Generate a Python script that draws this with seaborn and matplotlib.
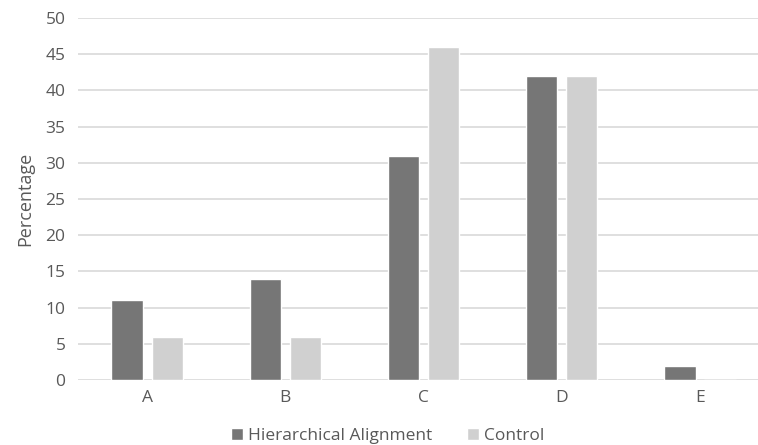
import matplotlib
matplotlib.use("Agg")
import matplotlib.pyplot as plt
import seaborn as sns
import pandas as pd

categories = ["A", "B", "C", "D", "E"]
hierarchical = [11, 14, 31, 42, 2]
control = [6, 6, 46, 42, 0]
series_names = ["Hierarchical Alignment", "Control"]
yticks = [0, 5, 10, 15, 20, 25, 30, 35, 40, 45, 50]

df = pd.DataFrame({
    "Category": categories * 2,
    "Value": hierarchical + control,
    "Series": [series_names[0]] * len(categories) + [series_names[1]] * len(categories),
})

sns.set_theme(style="white")
plt.rcParams["font.family"] = ["Open Sans", "DejaVu Sans"]
text_color = "#595959"

fig = plt.figure(figsize=(7.58, 4.45), dpi=100)
ax = fig.add_axes([78 / 758, 1 - 380 / 445, 1 - 78 / 758, (380 - 18) / 445])

sns.barplot(data=df, x="Category", y="Value", hue="Series", order=categories,
            hue_order=series_names, palette=["#767676", "#d0d0d0"],
            width=0.58, gap=0.22, ax=ax, legend=True, zorder=3)

ax.set_ylim(0, 50)
ax.set_xlim(-0.5, 4.42)
ax.set_yticks(yticks)
ax.yaxis.grid(True, color="#d9d9d9", linewidth=1.2, zorder=0)
ax.set_axisbelow(True)
for s in ax.spines.values():
    s.set_visible(False)
ax.tick_params(axis="both", length=0, colors=text_color, labelsize=12.5)
ax.tick_params(axis="y", pad=9)
ax.tick_params(axis="x", pad=7)
ax.set_xlabel("")
ax.set_ylabel("Percentage", color=text_color, fontsize=13, labelpad=8)

handles, labels = ax.get_legend_handles_labels()
ax.legend(handles, labels, loc="center", bbox_to_anchor=(0.5 * 758 / 680 - 78 / 680 + 0.013, -0.155),
          ncol=2, frameon=False, fontsize=12.5, labelcolor=text_color,
          handlelength=0.7, handleheight=0.7, handletextpad=0.3, columnspacing=2.0)

fig.savefig("out.png", dpi=100)
